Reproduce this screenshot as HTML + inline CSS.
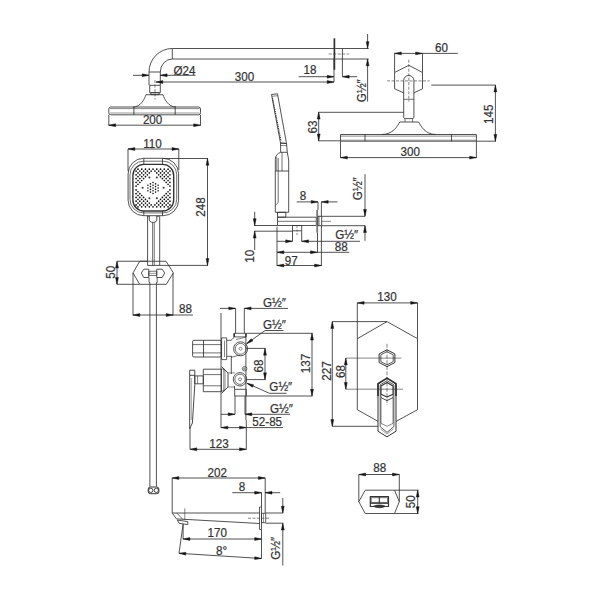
<!DOCTYPE html>
<html><head><meta charset="utf-8"><style>
html,body{margin:0;padding:0;background:#fff;}
svg{display:block;}
svg text{font-family:"Liberation Sans",sans-serif;fill:#333;stroke:#333;stroke-width:0.22;}
svg .a{fill:#151515;stroke:#151515;stroke-width:0.45;}
</style></head><body>
<svg width="600" height="600" viewBox="0 0 600 600">
<rect width="600" height="600" fill="#fff"/>
<g fill="none" stroke="#333" stroke-width="0.85" stroke-linecap="butt" stroke-linejoin="round">
<line x1="172.3" y1="48.5" x2="334" y2="48.5"/>
<line x1="172.3" y1="59" x2="334" y2="59"/>
<line x1="172.3" y1="48.5" x2="172.3" y2="59"/>
<path d="M172.3,48.5 A23.3,23.5 0 0 0 149,72"/>
<path d="M172.3,59 A12,13 0 0 0 160.3,72"/>
<line x1="149" y1="72" x2="160.3" y2="72"/>
<line x1="149" y1="72" x2="149" y2="85.3"/>
<line x1="160.3" y1="72" x2="160.3" y2="85.3"/>
<rect x="149.7" y="85.3" width="10.6" height="7.4"/>
<rect x="150.8" y="92.7" width="8.4" height="2"/>
<line x1="155" y1="80" x2="155" y2="99.5" stroke-width="0.6" stroke-dasharray="3,1.5"/>
<path d="M133,107 C141,107 144.5,99 146,94.7 L163,94.7 C164.5,99 168,107 176,107"/>
<rect x="108.8" y="107" width="91.7" height="7.8" rx="2"/>
<line x1="110" y1="108.6" x2="199.5" y2="108.6" stroke-width="0.6"/>
<line x1="110" y1="113" x2="199.5" y2="113" stroke-width="0.5"/>
<line x1="133.9" y1="107" x2="133.9" y2="114.8"/>
<line x1="175.2" y1="107" x2="175.2" y2="114.8"/>
<line x1="108.8" y1="114.8" x2="108.8" y2="125.5"/>
<line x1="200.5" y1="114.8" x2="200.5" y2="125.5"/>
<line x1="108.8" y1="125.2" x2="200.5" y2="125.2"/>
<path class="a" d="M108.8,125.2 L115.6,123.75 L115.6,126.65 Z"/>
<path class="a" d="M200.5,125.2 L193.7,126.65 L193.7,123.75 Z"/>
<text transform="translate(152.6,124.4) scale(0.94,1)" text-anchor="middle" font-size="12.4">200</text>
<line x1="133" y1="75.3" x2="149" y2="75.3"/>
<path class="a" d="M149,75.3 L142.2,76.75 L142.2,73.85 Z"/>
<line x1="160.3" y1="75.3" x2="195.5" y2="75.3"/>
<path class="a" d="M160.3,75.3 L167.1,73.85 L167.1,76.75 Z"/>
<text transform="translate(173.5,75) scale(0.94,1)" text-anchor="start" font-size="12.4">&#216;24</text>
<line x1="156" y1="82" x2="334" y2="82"/>
<path class="a" d="M156,82 L162.8,80.55 L162.8,83.45 Z"/>
<path class="a" d="M334,82 L327.2,83.45 L327.2,80.55 Z"/>
<text transform="translate(244.5,80.6) scale(0.94,1)" text-anchor="middle" font-size="12.4">300</text>
<line x1="298.7" y1="76.7" x2="334" y2="76.7"/>
<path class="a" d="M334,76.7 L327.2,78.15 L327.2,75.25 Z"/>
<text transform="translate(310,74) scale(0.94,1)" text-anchor="middle" font-size="12.4">18</text>
<line x1="342.4" y1="76.7" x2="357.3" y2="76.7"/>
<path class="a" d="M342.4,76.7 L349.2,75.25 L349.2,78.15 Z"/>
<line x1="342.4" y1="48.5" x2="342.4" y2="76.7"/>
<line x1="334" y1="59" x2="334" y2="82"/>
<line x1="334.4" y1="38.3" x2="334.4" y2="69.7" stroke-width="1.7"/>
<line x1="335.2" y1="48.5" x2="368.7" y2="48.5"/>
<line x1="335.2" y1="59" x2="368.7" y2="59"/>
<line x1="328.7" y1="54" x2="349" y2="54" stroke-width="0.6" stroke-dasharray="3,1.5"/>
<line x1="367.6" y1="34" x2="367.6" y2="48.5"/>
<path class="a" d="M367.6,48.5 L366.15,41.7 L369.05,41.7 Z"/>
<line x1="367.6" y1="59" x2="367.6" y2="101.5"/>
<path class="a" d="M367.6,59 L369.05,65.8 L366.15,65.8 Z"/>
<text transform="translate(366.3,90.7) rotate(-90) scale(0.94,1)" text-anchor="middle" font-size="12.4">G&#189;&#8243;</text>
<path d="M408.8,65.3 L422.5,72.5 L422.5,88.8 L413.9,92.9"/>
<path d="M403.7,92.9 L394.6,88.8 L394.6,72.5 L408.8,65.3"/>
<path d="M403.7,117 L403.7,80.5 A5.1,5.1 0 0 1 413.9,80.5 L413.9,117 C413.9,118 413.5,118.6 412.5,118.6 L405.1,118.6 C404.1,118.6 403.7,118 403.7,117"/>
<line x1="403.7" y1="99.3" x2="413.9" y2="99.3" stroke-width="0.7"/>
<line x1="405" y1="118.6" x2="405" y2="122" stroke-width="0.7"/>
<line x1="412.6" y1="118.6" x2="412.6" y2="122" stroke-width="0.7"/>
<line x1="408.8" y1="59.7" x2="408.8" y2="101.7" stroke-width="0.6" stroke-dasharray="3,1.5"/>
<line x1="387" y1="80.9" x2="429.6" y2="80.9" stroke-width="0.6" stroke-dasharray="3,1.5"/>
<line x1="394.6" y1="53.4" x2="394.6" y2="72.5"/>
<line x1="422.5" y1="53.4" x2="422.5" y2="72.5"/>
<line x1="394.5" y1="53.4" x2="457.8" y2="53.4"/>
<path class="a" d="M394.5,53.4 L401.3,51.95 L401.3,54.85 Z"/>
<path class="a" d="M422.4,53.4 L415.6,54.85 L415.6,51.95 Z"/>
<text transform="translate(441.5,51.7) scale(0.94,1)" text-anchor="middle" font-size="12.4">60</text>
<path d="M381.7,134.5 C393,134.5 397.5,126 399.8,122 L418.6,122 C421,126 425,134.5 436,134.5"/>
<rect x="340.5" y="134.5" width="135.9" height="6.7"/>
<line x1="341" y1="136.1" x2="476" y2="136.1" stroke-width="0.6"/>
<line x1="341" y1="140.2" x2="476" y2="140.2" stroke-width="0.5"/>
<line x1="365" y1="134.5" x2="365" y2="141.2"/>
<line x1="451.5" y1="134.5" x2="451.5" y2="141.2"/>
<line x1="431.3" y1="85.1" x2="495.7" y2="85.1"/>
<line x1="476.4" y1="141.2" x2="496" y2="141.2"/>
<line x1="495.4" y1="85.1" x2="495.4" y2="141.2"/>
<path class="a" d="M495.4,85.1 L496.85,91.9 L493.95,91.9 Z"/>
<path class="a" d="M495.4,141.2 L493.95,134.4 L496.85,134.4 Z"/>
<text transform="translate(493,114.3) rotate(-90) scale(0.94,1)" text-anchor="middle" font-size="12.4">145</text>
<line x1="318" y1="112.3" x2="403.7" y2="112.3"/>
<line x1="318" y1="140.8" x2="340.5" y2="140.8"/>
<line x1="318.7" y1="112.3" x2="318.7" y2="140.8"/>
<path class="a" d="M318.7,112.3 L320.15,119.1 L317.25,119.1 Z"/>
<path class="a" d="M318.7,140.8 L317.25,134 L320.15,134 Z"/>
<text transform="translate(317.2,127) rotate(-90) scale(0.94,1)" text-anchor="middle" font-size="12.4">63</text>
<line x1="340.5" y1="141.2" x2="340.5" y2="158"/>
<line x1="476.4" y1="141.2" x2="476.4" y2="158"/>
<line x1="340.5" y1="157.6" x2="476.4" y2="157.6"/>
<path class="a" d="M340.5,157.6 L347.3,156.15 L347.3,159.05 Z"/>
<path class="a" d="M476.4,157.6 L469.6,159.05 L469.6,156.15 Z"/>
<text transform="translate(410.3,156.2) scale(0.94,1)" text-anchor="middle" font-size="12.4">300</text>
<path d="M271.5,94.5 L277.5,93.8 L286.5,143.5 L280.5,143 Z"/>
<line x1="272" y1="96.3" x2="277.8" y2="95.7" stroke-width="0.6"/>
<line x1="272.5" y1="98" x2="281" y2="141" stroke-width="1.2" stroke-dasharray="1,0.9"/>
<path d="M280.5,143 L286.5,143.5 L287.3,152.3 L280.7,152.3 Z"/>
<line x1="280.6" y1="145.5" x2="286.9" y2="145.7" stroke-width="0.6"/>
<path d="M280.7,152.3 C277.5,153.5 275.3,155.5 275.3,159.5 L275.3,212.3 L288.7,212.3 L288.7,160 L287.3,152.3"/>
<line x1="282" y1="152.3" x2="282" y2="171" stroke-width="0.7"/>
<line x1="275.3" y1="171" x2="288.7" y2="171"/>
<path d="M276.7,157 L276.7,171" stroke-width="0.6"/>
<path d="M278.2,158 L278.2,201 C278.2,203 277,204 275.6,205" stroke-width="0.7"/>
<rect x="277.5" y="212.3" width="8.3" height="4.9"/>
<rect x="277.5" y="217.2" width="38.8" height="8.3"/>
<line x1="277.5" y1="221.3" x2="316.3" y2="221.3" stroke-width="0.7"/>
<line x1="317.2" y1="210" x2="317.2" y2="232.7" stroke-width="1.8" stroke="#777"/>
<rect x="318" y="216.3" width="3.7" height="9.4" stroke-width="0.9"/>
<line x1="319.2" y1="216.3" x2="319.2" y2="225.7" stroke-width="0.5"/>
<line x1="321.7" y1="216.3" x2="365" y2="216.3"/>
<line x1="321.7" y1="225.7" x2="365" y2="225.7"/>
<line x1="321.7" y1="221.3" x2="331" y2="221.3" stroke-width="0.6"/>
<rect x="292.5" y="225.5" width="9.2" height="5.3"/>
<line x1="297" y1="226" x2="297" y2="236" stroke-width="0.6" stroke-dasharray="2,1.5"/>
<line x1="254" y1="225.5" x2="277.5" y2="225.5"/>
<line x1="254" y1="231.2" x2="292.5" y2="231.2"/>
<line x1="254.7" y1="211.7" x2="254.7" y2="225.5"/>
<path class="a" d="M254.7,225.5 L253.25,218.7 L256.15,218.7 Z"/>
<line x1="254.7" y1="231.2" x2="254.7" y2="250"/>
<path class="a" d="M254.7,231.2 L256.15,238 L253.25,238 Z"/>
<text transform="translate(254.2,256.2) rotate(-90) scale(0.94,1)" text-anchor="middle" font-size="12.4">10</text>
<line x1="296.7" y1="201.9" x2="318" y2="201.9"/>
<path class="a" d="M318,201.9 L311.2,203.35 L311.2,200.45 Z"/>
<line x1="321.4" y1="201.9" x2="337.5" y2="201.9"/>
<path class="a" d="M321.4,201.9 L328.2,200.45 L328.2,203.35 Z"/>
<line x1="318" y1="201.9" x2="318" y2="210"/>
<line x1="317.5" y1="232.7" x2="317.5" y2="252.6"/>
<line x1="321.4" y1="201.9" x2="321.4" y2="216.3"/>
<line x1="321.4" y1="225.7" x2="321.4" y2="266"/>
<text transform="translate(302.9,199.8) scale(0.94,1)" text-anchor="middle" font-size="12.4">8</text>
<line x1="365" y1="174.2" x2="365" y2="216.3"/>
<path class="a" d="M365,216.3 L363.55,209.5 L366.45,209.5 Z"/>
<line x1="365" y1="225.7" x2="365" y2="240.8"/>
<path class="a" d="M365,225.7 L366.45,232.5 L363.55,232.5 Z"/>
<text transform="translate(362.1,188.7) rotate(-90) scale(0.94,1)" text-anchor="middle" font-size="12.4">G&#189;&#8243;</text>
<line x1="277" y1="241.3" x2="292.5" y2="241.3"/>
<path class="a" d="M292.5,241.3 L285.7,242.75 L285.7,239.85 Z"/>
<line x1="301.7" y1="241.3" x2="360" y2="241.3"/>
<path class="a" d="M301.7,241.3 L308.5,239.85 L308.5,242.75 Z"/>
<line x1="292.5" y1="230.8" x2="292.5" y2="241.3"/>
<line x1="301.7" y1="230.8" x2="301.7" y2="241.3"/>
<text transform="translate(346.7,239.2) scale(0.94,1)" text-anchor="middle" font-size="12.4">G&#189;&#8243;</text>
<line x1="277" y1="252.3" x2="349.2" y2="252.3"/>
<path class="a" d="M277,252.3 L283.8,250.85 L283.8,253.75 Z"/>
<path class="a" d="M317.3,252.3 L310.5,253.75 L310.5,250.85 Z"/>
<text transform="translate(341.2,250.5) scale(0.94,1)" text-anchor="middle" font-size="12.4">88</text>
<line x1="277" y1="265.5" x2="321.4" y2="265.5"/>
<path class="a" d="M277,265.5 L283.8,264.05 L283.8,266.95 Z"/>
<path class="a" d="M321.4,265.5 L314.6,266.95 L314.6,264.05 Z"/>
<text transform="translate(291.2,265) scale(0.94,1)" text-anchor="middle" font-size="12.4">97</text>
<line x1="277" y1="226.7" x2="277" y2="266"/>
<rect x="128.1" y="158.3" width="50.5" height="57.4" rx="15.5"/>
<rect x="130" y="161.2" width="46.7" height="51.7" stroke-width="0.7" rx="13.5"/>
<rect x="132.9" y="164.4" width="40.8" height="46.6" stroke-width="1.4" rx="11"/>
<line x1="143.8" y1="158.3" x2="143.8" y2="164.4"/>
<line x1="162.5" y1="158.3" x2="162.5" y2="164.4"/>
<line x1="143.8" y1="211" x2="143.8" y2="215.7"/>
<line x1="162.5" y1="211" x2="162.5" y2="215.7"/>
<circle cx="136.1" cy="171.08" r="0.85" fill="#111" stroke="none"/>
<circle cx="136.1" cy="174.84" r="0.85" fill="#111" stroke="none"/>
<circle cx="136.1" cy="178.6" r="0.85" fill="#111" stroke="none"/>
<circle cx="136.1" cy="182.36" r="0.85" fill="#111" stroke="none"/>
<circle cx="136.1" cy="186.12" r="0.85" fill="#111" stroke="none"/>
<circle cx="136.1" cy="189.88" r="0.85" fill="#111" stroke="none"/>
<circle cx="136.1" cy="193.64" r="0.85" fill="#111" stroke="none"/>
<circle cx="136.1" cy="197.4" r="0.85" fill="#111" stroke="none"/>
<circle cx="136.1" cy="201.16" r="0.85" fill="#111" stroke="none"/>
<circle cx="136.1" cy="204.92" r="0.85" fill="#111" stroke="none"/>
<circle cx="137.98" cy="169.2" r="0.85" fill="#111" stroke="none"/>
<circle cx="137.98" cy="172.96" r="0.85" fill="#111" stroke="none"/>
<circle cx="137.98" cy="176.72" r="0.85" fill="#111" stroke="none"/>
<circle cx="137.98" cy="180.48" r="0.85" fill="#111" stroke="none"/>
<circle cx="137.98" cy="184.24" r="0.85" fill="#111" stroke="none"/>
<circle cx="137.98" cy="191.76" r="0.85" fill="#111" stroke="none"/>
<circle cx="137.98" cy="195.52" r="0.85" fill="#111" stroke="none"/>
<circle cx="137.98" cy="199.28" r="0.85" fill="#111" stroke="none"/>
<circle cx="137.98" cy="203.04" r="0.85" fill="#111" stroke="none"/>
<circle cx="137.98" cy="206.8" r="0.85" fill="#111" stroke="none"/>
<circle cx="139.86" cy="171.08" r="0.85" fill="#111" stroke="none"/>
<circle cx="139.86" cy="174.84" r="0.85" fill="#111" stroke="none"/>
<circle cx="139.86" cy="178.6" r="0.85" fill="#111" stroke="none"/>
<circle cx="139.86" cy="182.36" r="0.85" fill="#111" stroke="none"/>
<circle cx="139.86" cy="193.64" r="0.85" fill="#111" stroke="none"/>
<circle cx="139.86" cy="197.4" r="0.85" fill="#111" stroke="none"/>
<circle cx="139.86" cy="201.16" r="0.85" fill="#111" stroke="none"/>
<circle cx="139.86" cy="204.92" r="0.85" fill="#111" stroke="none"/>
<circle cx="141.74" cy="169.2" r="0.85" fill="#111" stroke="none"/>
<circle cx="141.74" cy="172.96" r="0.85" fill="#111" stroke="none"/>
<circle cx="141.74" cy="176.72" r="0.85" fill="#111" stroke="none"/>
<circle cx="141.74" cy="180.48" r="0.85" fill="#111" stroke="none"/>
<circle cx="141.74" cy="195.52" r="0.85" fill="#111" stroke="none"/>
<circle cx="141.74" cy="199.28" r="0.85" fill="#111" stroke="none"/>
<circle cx="141.74" cy="203.04" r="0.85" fill="#111" stroke="none"/>
<circle cx="141.74" cy="206.8" r="0.85" fill="#111" stroke="none"/>
<circle cx="143.62" cy="171.08" r="0.85" fill="#111" stroke="none"/>
<circle cx="143.62" cy="174.84" r="0.85" fill="#111" stroke="none"/>
<circle cx="143.62" cy="178.6" r="0.85" fill="#111" stroke="none"/>
<circle cx="143.62" cy="197.4" r="0.85" fill="#111" stroke="none"/>
<circle cx="143.62" cy="201.16" r="0.85" fill="#111" stroke="none"/>
<circle cx="143.62" cy="204.92" r="0.85" fill="#111" stroke="none"/>
<circle cx="145.5" cy="169.2" r="0.85" fill="#111" stroke="none"/>
<circle cx="145.5" cy="172.96" r="0.85" fill="#111" stroke="none"/>
<circle cx="145.5" cy="176.72" r="0.85" fill="#111" stroke="none"/>
<circle cx="145.5" cy="199.28" r="0.85" fill="#111" stroke="none"/>
<circle cx="145.5" cy="203.04" r="0.85" fill="#111" stroke="none"/>
<circle cx="145.5" cy="206.8" r="0.85" fill="#111" stroke="none"/>
<circle cx="147.38" cy="171.08" r="0.85" fill="#111" stroke="none"/>
<circle cx="147.38" cy="174.84" r="0.85" fill="#111" stroke="none"/>
<circle cx="147.38" cy="201.16" r="0.85" fill="#111" stroke="none"/>
<circle cx="147.38" cy="204.92" r="0.85" fill="#111" stroke="none"/>
<circle cx="149.26" cy="169.2" r="0.85" fill="#111" stroke="none"/>
<circle cx="149.26" cy="172.96" r="0.85" fill="#111" stroke="none"/>
<circle cx="149.26" cy="203.04" r="0.85" fill="#111" stroke="none"/>
<circle cx="149.26" cy="206.8" r="0.85" fill="#111" stroke="none"/>
<circle cx="151.14" cy="171.08" r="0.85" fill="#111" stroke="none"/>
<circle cx="151.14" cy="204.92" r="0.85" fill="#111" stroke="none"/>
<circle cx="153.02" cy="169.2" r="0.85" fill="#111" stroke="none"/>
<circle cx="153.02" cy="206.8" r="0.85" fill="#111" stroke="none"/>
<circle cx="154.9" cy="171.08" r="0.85" fill="#111" stroke="none"/>
<circle cx="154.9" cy="204.92" r="0.85" fill="#111" stroke="none"/>
<circle cx="156.78" cy="169.2" r="0.85" fill="#111" stroke="none"/>
<circle cx="156.78" cy="172.96" r="0.85" fill="#111" stroke="none"/>
<circle cx="156.78" cy="203.04" r="0.85" fill="#111" stroke="none"/>
<circle cx="156.78" cy="206.8" r="0.85" fill="#111" stroke="none"/>
<circle cx="158.66" cy="171.08" r="0.85" fill="#111" stroke="none"/>
<circle cx="158.66" cy="174.84" r="0.85" fill="#111" stroke="none"/>
<circle cx="158.66" cy="201.16" r="0.85" fill="#111" stroke="none"/>
<circle cx="158.66" cy="204.92" r="0.85" fill="#111" stroke="none"/>
<circle cx="160.54" cy="169.2" r="0.85" fill="#111" stroke="none"/>
<circle cx="160.54" cy="172.96" r="0.85" fill="#111" stroke="none"/>
<circle cx="160.54" cy="176.72" r="0.85" fill="#111" stroke="none"/>
<circle cx="160.54" cy="199.28" r="0.85" fill="#111" stroke="none"/>
<circle cx="160.54" cy="203.04" r="0.85" fill="#111" stroke="none"/>
<circle cx="160.54" cy="206.8" r="0.85" fill="#111" stroke="none"/>
<circle cx="162.42" cy="171.08" r="0.85" fill="#111" stroke="none"/>
<circle cx="162.42" cy="174.84" r="0.85" fill="#111" stroke="none"/>
<circle cx="162.42" cy="178.6" r="0.85" fill="#111" stroke="none"/>
<circle cx="162.42" cy="197.4" r="0.85" fill="#111" stroke="none"/>
<circle cx="162.42" cy="201.16" r="0.85" fill="#111" stroke="none"/>
<circle cx="162.42" cy="204.92" r="0.85" fill="#111" stroke="none"/>
<circle cx="164.3" cy="169.2" r="0.85" fill="#111" stroke="none"/>
<circle cx="164.3" cy="172.96" r="0.85" fill="#111" stroke="none"/>
<circle cx="164.3" cy="176.72" r="0.85" fill="#111" stroke="none"/>
<circle cx="164.3" cy="180.48" r="0.85" fill="#111" stroke="none"/>
<circle cx="164.3" cy="195.52" r="0.85" fill="#111" stroke="none"/>
<circle cx="164.3" cy="199.28" r="0.85" fill="#111" stroke="none"/>
<circle cx="164.3" cy="203.04" r="0.85" fill="#111" stroke="none"/>
<circle cx="164.3" cy="206.8" r="0.85" fill="#111" stroke="none"/>
<circle cx="166.18" cy="171.08" r="0.85" fill="#111" stroke="none"/>
<circle cx="166.18" cy="174.84" r="0.85" fill="#111" stroke="none"/>
<circle cx="166.18" cy="178.6" r="0.85" fill="#111" stroke="none"/>
<circle cx="166.18" cy="182.36" r="0.85" fill="#111" stroke="none"/>
<circle cx="166.18" cy="193.64" r="0.85" fill="#111" stroke="none"/>
<circle cx="166.18" cy="197.4" r="0.85" fill="#111" stroke="none"/>
<circle cx="166.18" cy="201.16" r="0.85" fill="#111" stroke="none"/>
<circle cx="166.18" cy="204.92" r="0.85" fill="#111" stroke="none"/>
<circle cx="168.06" cy="169.2" r="0.85" fill="#111" stroke="none"/>
<circle cx="168.06" cy="172.96" r="0.85" fill="#111" stroke="none"/>
<circle cx="168.06" cy="176.72" r="0.85" fill="#111" stroke="none"/>
<circle cx="168.06" cy="180.48" r="0.85" fill="#111" stroke="none"/>
<circle cx="168.06" cy="184.24" r="0.85" fill="#111" stroke="none"/>
<circle cx="168.06" cy="191.76" r="0.85" fill="#111" stroke="none"/>
<circle cx="168.06" cy="195.52" r="0.85" fill="#111" stroke="none"/>
<circle cx="168.06" cy="199.28" r="0.85" fill="#111" stroke="none"/>
<circle cx="168.06" cy="203.04" r="0.85" fill="#111" stroke="none"/>
<circle cx="168.06" cy="206.8" r="0.85" fill="#111" stroke="none"/>
<circle cx="169.94" cy="171.08" r="0.85" fill="#111" stroke="none"/>
<circle cx="169.94" cy="174.84" r="0.85" fill="#111" stroke="none"/>
<circle cx="169.94" cy="178.6" r="0.85" fill="#111" stroke="none"/>
<circle cx="169.94" cy="182.36" r="0.85" fill="#111" stroke="none"/>
<circle cx="169.94" cy="186.12" r="0.85" fill="#111" stroke="none"/>
<circle cx="169.94" cy="189.88" r="0.85" fill="#111" stroke="none"/>
<circle cx="169.94" cy="193.64" r="0.85" fill="#111" stroke="none"/>
<circle cx="169.94" cy="197.4" r="0.85" fill="#111" stroke="none"/>
<circle cx="169.94" cy="201.16" r="0.85" fill="#111" stroke="none"/>
<circle cx="169.94" cy="204.92" r="0.85" fill="#111" stroke="none"/>
<circle cx="142.6" cy="187.8" r="1" fill="#333" stroke="none"/>
<circle cx="163.6" cy="187.8" r="1" fill="#333" stroke="none"/>
<circle cx="149.4" cy="177.6" r="1" fill="#333" stroke="none"/>
<circle cx="156.8" cy="177.6" r="1" fill="#333" stroke="none"/>
<circle cx="149.4" cy="198.2" r="1" fill="#333" stroke="none"/>
<circle cx="156.8" cy="198.2" r="1" fill="#333" stroke="none"/>
<circle cx="147.9" cy="185.25" r="0.8" fill="#111" stroke="none"/>
<circle cx="147.9" cy="188" r="0.8" fill="#111" stroke="none"/>
<circle cx="147.9" cy="190.75" r="0.8" fill="#111" stroke="none"/>
<circle cx="150.45" cy="183.88" r="0.8" fill="#111" stroke="none"/>
<circle cx="150.45" cy="186.62" r="0.8" fill="#111" stroke="none"/>
<circle cx="150.45" cy="189.38" r="0.8" fill="#111" stroke="none"/>
<circle cx="150.45" cy="192.12" r="0.8" fill="#111" stroke="none"/>
<circle cx="153" cy="182.5" r="0.8" fill="#111" stroke="none"/>
<circle cx="153" cy="185.25" r="0.8" fill="#111" stroke="none"/>
<circle cx="153" cy="188" r="0.8" fill="#111" stroke="none"/>
<circle cx="153" cy="190.75" r="0.8" fill="#111" stroke="none"/>
<circle cx="153" cy="193.5" r="0.8" fill="#111" stroke="none"/>
<circle cx="155.55" cy="183.88" r="0.8" fill="#111" stroke="none"/>
<circle cx="155.55" cy="186.62" r="0.8" fill="#111" stroke="none"/>
<circle cx="155.55" cy="189.38" r="0.8" fill="#111" stroke="none"/>
<circle cx="155.55" cy="192.12" r="0.8" fill="#111" stroke="none"/>
<circle cx="158.1" cy="185.25" r="0.8" fill="#111" stroke="none"/>
<circle cx="158.1" cy="188" r="0.8" fill="#111" stroke="none"/>
<circle cx="158.1" cy="190.75" r="0.8" fill="#111" stroke="none"/>
<line x1="128" y1="149" x2="128" y2="171"/>
<line x1="178.8" y1="149" x2="178.8" y2="170"/>
<line x1="128" y1="149" x2="178.8" y2="149"/>
<path class="a" d="M128,149 L134.8,147.55 L134.8,150.45 Z"/>
<path class="a" d="M178.8,149 L172,150.45 L172,147.55 Z"/>
<text transform="translate(152.5,147.6) scale(0.94,1)" text-anchor="middle" font-size="12.4">110</text>
<line x1="163" y1="158.5" x2="208" y2="158.5"/>
<line x1="147.6" y1="265.4" x2="208" y2="265.4"/>
<line x1="207.5" y1="158.5" x2="207.5" y2="265.4"/>
<path class="a" d="M207.5,158.5 L208.95,165.3 L206.05,165.3 Z"/>
<path class="a" d="M207.5,265.4 L206.05,258.6 L208.95,258.6 Z"/>
<text transform="translate(205.2,207) rotate(-90) scale(0.94,1)" text-anchor="middle" font-size="12.4">248</text>
<path d="M149.3,216 L149.3,219.5 C149.3,221.5 151,222.4 153.2,222.4 C155.4,222.4 156.8,221.5 156.8,219.5 L156.8,216" stroke-width="0.9"/>
<line x1="146.9" y1="216.3" x2="149.3" y2="216.3" stroke-width="0.7"/>
<line x1="156.8" y1="216.3" x2="159.5" y2="216.3" stroke-width="0.7"/>
<line x1="147.6" y1="216.3" x2="147.6" y2="265.4"/>
<line x1="159.7" y1="216.3" x2="159.7" y2="265.4"/>
<line x1="152.6" y1="222.4" x2="152.6" y2="265.4" stroke-width="0.7"/>
<line x1="154.25" y1="222.4" x2="154.25" y2="265.4" stroke-width="0.7"/>
<path d="M139.7,261.25 L166,261.25 L173.4,272.9 L166.3,284.3 L139.7,284.3 L133,272.9 Z"/>
<path d="M148.8,269.2 L143.8,269.2 L141.3,273 L143.8,277.5 L148.8,277.5 Z"/>
<path d="M156.75,269.2 L162.2,269.2 L164.7,273 L162.2,277.5 L156.75,277.5 Z"/>
<rect x="148.8" y="271.25" width="7.95" height="4.15" stroke-width="0.7"/>
<line x1="148.8" y1="273.3" x2="156.75" y2="273.3" stroke-width="0.5"/>
<line x1="149" y1="277.5" x2="149" y2="282.5" stroke-width="0.8"/>
<line x1="157.2" y1="277.5" x2="157.2" y2="282.5" stroke-width="0.8"/>
<line x1="149.9" y1="282.5" x2="149.9" y2="486.7"/>
<line x1="156.4" y1="282.5" x2="156.4" y2="486.7"/>
<line x1="149" y1="282.5" x2="149.9" y2="282.5" stroke-width="0.6"/>
<line x1="156.4" y1="282.5" x2="157.2" y2="282.5" stroke-width="0.6"/>
<rect x="148.2" y="487" width="10.7" height="6.7" stroke-width="1" rx="2.2"/>
<circle cx="150.8" cy="490.35" r="2.15" stroke-width="0.9"/>
<circle cx="156.3" cy="490.35" r="2.15" stroke-width="0.9"/>
<line x1="117" y1="261.25" x2="147.6" y2="261.25"/>
<line x1="117" y1="284.3" x2="139.7" y2="284.3"/>
<line x1="117" y1="261.25" x2="117" y2="284.3"/>
<path class="a" d="M117,261.25 L118.45,268.05 L115.55,268.05 Z"/>
<path class="a" d="M117,284.3 L115.55,277.5 L118.45,277.5 Z"/>
<text transform="translate(114.5,272.2) rotate(-90) scale(0.94,1)" text-anchor="middle" font-size="12.4">50</text>
<line x1="133" y1="273" x2="133" y2="315.5"/>
<line x1="173" y1="273" x2="173" y2="315.5"/>
<line x1="133" y1="315" x2="193" y2="315"/>
<path class="a" d="M133,315 L139.8,313.55 L139.8,316.45 Z"/>
<path class="a" d="M173,315 L166.2,316.45 L166.2,313.55 Z"/>
<text transform="translate(185.5,313) scale(0.94,1)" text-anchor="middle" font-size="12.4">88</text>
<line x1="221" y1="313" x2="221" y2="410"/>
<rect x="192.6" y="340.3" width="28.7" height="16.7" rx="1.2"/>
<line x1="203.5" y1="340.3" x2="203.5" y2="357"/>
<line x1="192.8" y1="344.6" x2="221.3" y2="344.6" stroke-width="0.7"/>
<line x1="192.8" y1="352.9" x2="221.3" y2="352.9" stroke-width="0.7"/>
<rect x="221.6" y="337.9" width="5.1" height="21.7" stroke-width="0.8"/>
<line x1="224.5" y1="340.5" x2="224.5" y2="357" stroke-width="0.6"/>
<path d="M226.7,340.3 L231,340.3 C233,339 233.6,337.5 234.2,336.9" stroke-width="0.8"/>
<line x1="226.7" y1="356.3" x2="232" y2="356.3" stroke-width="0.8"/>
<circle cx="240.6" cy="348.8" r="7"/>
<circle cx="240.6" cy="348.8" r="5.4" stroke-width="0.7"/>
<circle cx="240.6" cy="348.8" r="1.5" stroke-width="0.5"/>
<rect x="234.2" y="333.3" width="11.7" height="3.6" stroke-width="0.8"/>
<line x1="234.2" y1="333.3" x2="234.2" y2="336.9" stroke-width="1.5"/>
<line x1="245.9" y1="333.3" x2="245.9" y2="336.9" stroke-width="1.5"/>
<line x1="236" y1="339.5" x2="245.9" y2="337.2" stroke-width="0.6"/>
<line x1="231.3" y1="356.5" x2="231.3" y2="374"/>
<line x1="245.9" y1="336.9" x2="245.9" y2="420"/>
<path d="M231.3,357.5 C233,356.5 238,355.4 240.3,355.4" stroke-width="0.7"/>
<circle cx="244.6" cy="368.75" r="2.3" stroke-width="0.7"/>
<circle cx="244.6" cy="368.75" r="1.6" fill="#999" stroke="none"/>
<circle cx="240" cy="379.3" r="6.7"/>
<circle cx="240" cy="379.3" r="5.1" stroke-width="0.7"/>
<circle cx="240" cy="379.3" r="1.5" stroke-width="0.6"/>
<rect x="234.7" y="389.3" width="11.6" height="6.7"/>
<line x1="234.5" y1="386" x2="234.5" y2="389.3"/>
<rect x="203.3" y="369.2" width="18.2" height="22.5"/>
<line x1="203.3" y1="374.6" x2="221.5" y2="374.6" stroke-width="0.7"/>
<line x1="203.3" y1="385.8" x2="221.5" y2="385.8" stroke-width="0.7"/>
<path d="M221.6,366.7 L228,372.9 L228,387.1 L221.6,393.3" stroke-width="0.9"/>
<path d="M221.6,368.5 L225,370.5 L225,389.5 L221.6,391.5" stroke-width="0.6"/>
<line x1="223.7" y1="368" x2="223.7" y2="392" stroke-width="0.5"/>
<line x1="228" y1="372.9" x2="235" y2="372.9" stroke-width="0.6"/>
<line x1="228" y1="387" x2="235" y2="387" stroke-width="0.6"/>
<rect x="189.7" y="370.2" width="5.1" height="5.1" stroke-width="0.9"/>
<rect x="194.8" y="375.9" width="8.5" height="7.9"/>
<line x1="197.6" y1="375.9" x2="197.6" y2="383.8" stroke-width="0.6"/>
<path d="M189.7,375.3 L189.7,428.6 L192.4,423 L194.8,384.4 L194.8,375.3" stroke-width="0.9"/>
<line x1="191.3" y1="378" x2="191.3" y2="420" stroke-width="0.45"/>
<line x1="246.3" y1="348.4" x2="265.5" y2="348.4"/>
<line x1="246.3" y1="379.6" x2="265.5" y2="379.6"/>
<line x1="265" y1="348.4" x2="265" y2="379.6"/>
<path class="a" d="M265,348.4 L266.45,355.2 L263.55,355.2 Z"/>
<path class="a" d="M265,379.6 L263.55,372.8 L266.45,372.8 Z"/>
<text transform="translate(263.3,366) rotate(-90) scale(0.94,1)" text-anchor="middle" font-size="12.4">68</text>
<line x1="246.3" y1="333.3" x2="312.5" y2="333.3"/>
<line x1="246.3" y1="396" x2="312.5" y2="396"/>
<line x1="312" y1="333.3" x2="312" y2="396"/>
<path class="a" d="M312,333.3 L313.45,340.1 L310.55,340.1 Z"/>
<path class="a" d="M312,396 L310.55,389.2 L313.45,389.2 Z"/>
<text transform="translate(309.5,363.5) rotate(-90) scale(0.94,1)" text-anchor="middle" font-size="12.4">137</text>
<line x1="220" y1="308.4" x2="235.6" y2="308.4"/>
<path class="a" d="M235.6,308.4 L228.8,309.85 L228.8,306.95 Z"/>
<line x1="244.3" y1="308.4" x2="288" y2="308.4"/>
<path class="a" d="M244.3,308.4 L251.1,306.95 L251.1,309.85 Z"/>
<line x1="235.6" y1="308.4" x2="235.6" y2="333.3"/>
<line x1="244.3" y1="308.4" x2="244.3" y2="333.3"/>
<text transform="translate(274.5,307) scale(0.94,1)" text-anchor="middle" font-size="12.4">G&#189;&#8243;</text>
<line x1="265" y1="330.5" x2="283.5" y2="330.5"/>
<line x1="265" y1="330.5" x2="247" y2="343.5"/>
<path class="a" d="M246.5,343.8 L251.19,338.67 L252.88,341.03 Z"/>
<text transform="translate(274.5,329) scale(0.94,1)" text-anchor="middle" font-size="12.4">G&#189;&#8243;</text>
<line x1="269.4" y1="393.3" x2="286.5" y2="393.3"/>
<line x1="269.4" y1="393.3" x2="247" y2="383.3"/>
<path class="a" d="M246.8,383.2 L253.59,384.69 L252.39,387.33 Z"/>
<text transform="translate(280.8,391) scale(0.94,1)" text-anchor="middle" font-size="12.4">G&#189;&#8243;</text>
<line x1="221" y1="414.3" x2="235" y2="414.3"/>
<path class="a" d="M235,414.3 L228.2,415.75 L228.2,412.85 Z"/>
<line x1="245" y1="414.3" x2="290" y2="414.3"/>
<path class="a" d="M245,414.3 L251.8,412.85 L251.8,415.75 Z"/>
<line x1="235" y1="396" x2="235" y2="414.3"/>
<line x1="245" y1="396" x2="245" y2="414.3"/>
<text transform="translate(281.5,413) scale(0.94,1)" text-anchor="middle" font-size="12.4">G&#189;&#8243;</text>
<line x1="221" y1="427.6" x2="283" y2="427.6"/>
<path class="a" d="M221,427.6 L227.8,426.15 L227.8,429.05 Z"/>
<path class="a" d="M246.3,427.6 L239.5,429.05 L239.5,426.15 Z"/>
<line x1="221" y1="410" x2="221" y2="428"/>
<text transform="translate(267.2,425.7) scale(0.94,1)" text-anchor="middle" font-size="12.4">52-85</text>
<line x1="190" y1="449.3" x2="246.3" y2="449.3"/>
<path class="a" d="M190,449.3 L196.8,447.85 L196.8,450.75 Z"/>
<path class="a" d="M246.3,449.3 L239.5,450.75 L239.5,447.85 Z"/>
<line x1="190" y1="427.5" x2="190" y2="449.5"/>
<line x1="246.3" y1="420" x2="246.3" y2="449.5"/>
<text transform="translate(219,448) scale(0.94,1)" text-anchor="middle" font-size="12.4">123</text>
<path d="M387,321.6 L417.5,338.7 L417.5,409.7 L387,426.4 L357.3,409.7 L357.3,338.7 Z"/>
<path d="M387,349.8 L394.9,353.9 L394.9,362.5 L387,366.6 L379.1,362.5 L379.1,353.9 Z" stroke-width="1"/>
<path d="M387,351.6 L393.2,354.8 L393.2,361.6 L387,364.8 L380.8,361.6 L380.8,354.8 Z" stroke-width="0.8"/>
<path d="M387,378.1 L396,383.7 L396,431.25 L387,436.8 L378,431.25 L378,383.7 Z" stroke-width="1" fill="#fff"/>
<path d="M378,396 L378,383.7 L387,378.1 L396,383.7 L396,396" stroke-width="1.7"/>
<path d="M387,380.75 L393.9,384.8 L393.9,426.6 L387,432.4 L380.2,426.6 L380.2,384.8 Z" stroke-width="0.8"/>
<path d="M387,382.5 L393,386 L393,394.2 L387,397.1 L381,394.2 L381,386 Z" stroke-width="1.1"/>
<path d="M381,397.6 L387,400.6 L393,397.6" stroke-width="0.9"/>
<path d="M381,394.2 L381,423.4 L387,426.3 L393,423.4 L393,394.2" stroke-width="0.6"/>
<path d="M380.6,429 L387,434 L393.4,429" stroke-width="0.5"/>
<line x1="345.8" y1="389.2" x2="403" y2="389.2" stroke-width="0.6"/>
<line x1="345.8" y1="358.1" x2="401.4" y2="358.1" stroke-width="0.6"/>
<line x1="387" y1="343.8" x2="387" y2="405" stroke-width="0.6" stroke-dasharray="4,1.5"/>
<line x1="357.3" y1="302.9" x2="357.3" y2="338.7"/>
<line x1="417.5" y1="302.9" x2="417.5" y2="338.7"/>
<line x1="357.3" y1="302.9" x2="417.5" y2="302.9"/>
<path class="a" d="M357.3,302.9 L364.1,301.45 L364.1,304.35 Z"/>
<path class="a" d="M417.5,302.9 L410.7,304.35 L410.7,301.45 Z"/>
<text transform="translate(387,300.7) scale(0.94,1)" text-anchor="middle" font-size="12.4">130</text>
<line x1="332.3" y1="321.6" x2="387" y2="321.6"/>
<line x1="332.3" y1="426.3" x2="378" y2="426.3"/>
<line x1="332.3" y1="321.6" x2="332.3" y2="426.3"/>
<path class="a" d="M332.3,321.6 L333.75,328.4 L330.85,328.4 Z"/>
<path class="a" d="M332.3,426.3 L330.85,419.5 L333.75,419.5 Z"/>
<text transform="translate(330.5,371) rotate(-90) scale(0.94,1)" text-anchor="middle" font-size="12.4">227</text>
<line x1="345.8" y1="358.1" x2="345.8" y2="389.2"/>
<path class="a" d="M345.8,358.1 L347.25,364.9 L344.35,364.9 Z"/>
<path class="a" d="M345.8,389.2 L344.35,382.4 L347.25,382.4 Z"/>
<text transform="translate(344.5,371.6) rotate(-90) scale(0.94,1)" text-anchor="middle" font-size="12.4">68</text>
<line x1="172.2" y1="513" x2="259.5" y2="513"/>
<line x1="172.2" y1="478" x2="172.2" y2="513"/>
<line x1="172.2" y1="513" x2="176.7" y2="519.2"/>
<line x1="176.7" y1="518.9" x2="259.5" y2="523.5"/>
<line x1="176.7" y1="513" x2="183" y2="519.5" stroke-width="0.7"/>
<path d="M177.3,520.1 L187.8,521.6 L187.8,524.6 L179,523.2 Z"/>
<line x1="184.8" y1="508.4" x2="184.8" y2="520" stroke-width="0.6"/>
<line x1="183.1" y1="524.2" x2="179" y2="553.3"/>
<line x1="183.1" y1="524" x2="183.1" y2="539.3"/>
<line x1="183.1" y1="539" x2="261.5" y2="539"/>
<path class="a" d="M183.1,539 L189.9,537.55 L189.9,540.45 Z"/>
<path class="a" d="M261.5,539 L254.7,540.45 L254.7,537.55 Z"/>
<text transform="translate(217.2,537) scale(0.94,1)" text-anchor="middle" font-size="12.4">170</text>
<line x1="179" y1="553.3" x2="261.5" y2="558.5"/>
<path class="a" d="M179,553.3 L185.88,552.28 L185.7,555.17 Z"/>
<path class="a" d="M261.5,558.5 L254.62,559.52 L254.8,556.63 Z"/>
<text transform="translate(221.5,555) scale(0.94,1)" text-anchor="middle" font-size="12.4">8&#176;</text>
<rect x="259.5" y="507" width="2" height="22.5" stroke-width="0.8"/>
<rect x="261.5" y="513.3" width="4.2" height="9.4" stroke-width="0.8"/>
<line x1="263.5" y1="513.3" x2="263.5" y2="522.7" stroke-width="0.5"/>
<line x1="248" y1="518.2" x2="270.5" y2="518.2" stroke-width="0.6" stroke-dasharray="3,1.5"/>
<line x1="172.1" y1="478" x2="265.2" y2="478"/>
<path class="a" d="M172.1,478 L178.9,476.55 L178.9,479.45 Z"/>
<path class="a" d="M265.2,478 L258.4,479.45 L258.4,476.55 Z"/>
<text transform="translate(217.2,476.5) scale(0.94,1)" text-anchor="middle" font-size="12.4">202</text>
<line x1="265.2" y1="478" x2="265.2" y2="513.3"/>
<line x1="232.3" y1="492.7" x2="261.5" y2="492.7"/>
<path class="a" d="M261.5,492.7 L254.7,494.15 L254.7,491.25 Z"/>
<line x1="265.2" y1="492.7" x2="280.2" y2="492.7"/>
<path class="a" d="M265.2,492.7 L272,491.25 L272,494.15 Z"/>
<line x1="261.5" y1="492.7" x2="261.5" y2="507"/>
<line x1="261.5" y1="529.5" x2="261.5" y2="558.5"/>
<text transform="translate(242,491.2) scale(0.94,1)" text-anchor="middle" font-size="12.4">8</text>
<line x1="282.8" y1="498" x2="282.8" y2="513"/>
<path class="a" d="M282.8,513 L281.35,506.2 L284.25,506.2 Z"/>
<line x1="282.8" y1="523.2" x2="282.8" y2="565.5"/>
<path class="a" d="M282.8,523.2 L284.25,530 L281.35,530 Z"/>
<line x1="265.7" y1="513" x2="283.2" y2="513"/>
<line x1="265.7" y1="523.2" x2="283.2" y2="523.2"/>
<text transform="translate(279.7,548.3) rotate(-90) scale(0.94,1)" text-anchor="middle" font-size="12.4">G&#189;&#8243;</text>
<path d="M365.2,490.2 L394.5,490.2 L399.3,501.7 L394.5,513.5 L365.2,513.5 L358.8,501.7 Z"/>
<rect x="370.3" y="496.6" width="18.2" height="9.9" stroke-width="1.2"/>
<line x1="370.3" y1="503.2" x2="388.5" y2="503.2" stroke-width="1.3"/>
<rect x="371.3" y="497.7" width="16.2" height="4.7" stroke-width="0.6"/>
<line x1="379.3" y1="496.6" x2="379.3" y2="503.2" stroke-width="1.1"/>
<path d="M373.5,506.3 C376,504.6 382.8,504.6 385.3,506.3 C383,508.2 376,508.2 373.5,506.3 Z" stroke-width="0.8" fill="#333"/>
<line x1="358.8" y1="474.5" x2="358.8" y2="501.7"/>
<line x1="399.3" y1="474.5" x2="399.3" y2="501.7"/>
<line x1="358.8" y1="474.5" x2="399.3" y2="474.5"/>
<path class="a" d="M358.8,474.5 L365.6,473.05 L365.6,475.95 Z"/>
<path class="a" d="M399.3,474.5 L392.5,475.95 L392.5,473.05 Z"/>
<text transform="translate(379.8,472.3) scale(0.94,1)" text-anchor="middle" font-size="12.4">88</text>
<line x1="394.5" y1="490.2" x2="418.5" y2="490.2"/>
<line x1="394.5" y1="513.5" x2="418.5" y2="513.5"/>
<line x1="417.7" y1="490.2" x2="417.7" y2="513.5"/>
<path class="a" d="M417.7,490.2 L419.15,497 L416.25,497 Z"/>
<path class="a" d="M417.7,513.5 L416.25,506.7 L419.15,506.7 Z"/>
<text transform="translate(415.3,501.8) rotate(-90) scale(0.94,1)" text-anchor="middle" font-size="12.4">50</text>
</g>
</svg>
</body></html>
